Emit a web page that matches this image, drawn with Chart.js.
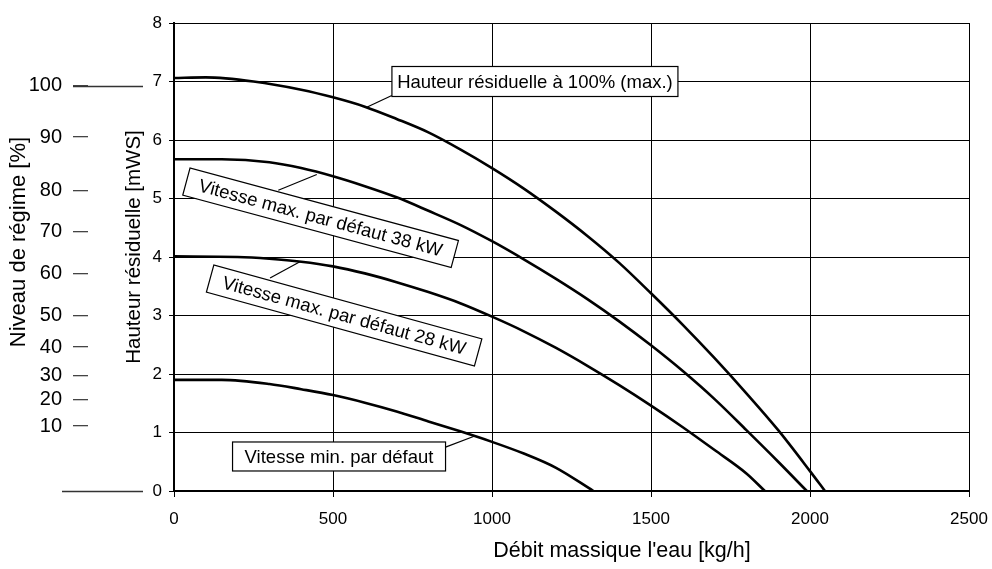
<!DOCTYPE html>
<html>
<head>
<meta charset="utf-8">
<script src="https://cdn.jsdelivr.net/npm/chart.js@4/dist/chart.umd.min.js"></script>
<style>
html,body{margin:0;padding:0;background:#fff;}
#wrap{width:992px;height:569px;position:relative;}
</style>
</head>
<body>
<div id="wrap"><canvas id="c" width="992" height="569"></canvas></div>
<script>
// ---------- DATA ----------
const seriesNames = ["Hauteur résiduelle à 100% (max.)", "Vitesse max. par défaut 38 kW", "Vitesse max. par défaut 28 kW", "Vitesse min. par défaut"];

const flowMax = [0, 100, 250, 400, 500, 600, 700, 800, 900, 1000, 1100, 1200, 1300, 1400, 1500, 1600, 1700, 1800, 1900, 2000, 2047];
const headMax = [7.06, 7.07, 7.00, 6.86, 6.73, 6.57, 6.36, 6.13, 5.84, 5.52, 5.17, 4.78, 4.36, 3.90, 3.38, 2.84, 2.27, 1.67, 1.04, 0.34, 0];

const flow38 = [0, 150, 300, 400, 500, 600, 700, 800, 900, 1000, 1100, 1200, 1300, 1400, 1500, 1600, 1700, 1800, 1900, 1990];
const head38 = [5.67, 5.67, 5.62, 5.52, 5.38, 5.21, 5.02, 4.79, 4.55, 4.27, 3.96, 3.63, 3.28, 2.90, 2.49, 2.05, 1.57, 1.04, 0.50, 0];

const flow28 = [0, 200, 300, 400, 500, 600, 700, 800, 900, 1000, 1100, 1200, 1300, 1400, 1500, 1600, 1700, 1800, 1858];
const head28 = [4.01, 4.00, 3.97, 3.92, 3.84, 3.72, 3.57, 3.40, 3.21, 2.98, 2.73, 2.45, 2.14, 1.81, 1.46, 1.09, 0.70, 0.30, 0];

const flowMin = [0, 150, 300, 400, 500, 600, 700, 800, 900, 1000, 1100, 1200, 1319];
const headMin = [1.90, 1.90, 1.83, 1.74, 1.64, 1.51, 1.36, 1.19, 1.02, 0.84, 0.64, 0.40, 0];

const xTickValues = [0, 500, 1000, 1500, 2000, 2500];
const yTickValues = [0, 1, 2, 3, 4, 5, 6, 7, 8];

// Niveau de régime [%] and the residual head each level is read against
const pctLabels = [100, 90, 80, 70, 60, 50, 40, 30, 20, 10];
const pctHeads  = [6.93, 6.05, 5.14, 4.43, 3.71, 3.00, 2.46, 1.97, 1.56, 1.11];

const axisTitles = {
  x: "Débit massique l'eau [kg/h]",
  y: "Hauteur résiduelle [mWS]",
  pct: "Niveau de régime [%]"
};

// ---------- LAYOUT / STYLE (not data) ----------
const FONT = "'Liberation Sans', Arial, Helvetica, sans-serif";
const calloutLayout = [
  {series: 0, cx: 1135, cy: 7.00, w: 286, h: 30, angle: 0,    from: [685, 6.76], to: [606, 6.56]},
  {series: 1, cx: 461,  cy: 4.67, w: 278, h: 28, angle: 15.1, from: [328, 5.14], to: [449, 5.41]},
  {series: 2, cx: 535,  cy: 3.00, w: 278, h: 28, angle: 15.4, from: [302, 3.64], to: [396, 3.92]},
  {series: 3, cx: 519,  cy: 0.59, w: 213, h: 29, angle: 0,    from: [854, 0.75], to: [946, 0.94]}
];

function pts(xs, ys) { return xs.map((x, i) => ({x: x, y: ys[i]})); }

Chart.defaults.font.family = FONT;
Chart.defaults.color = '#000';

const lineStyle = {borderColor: '#000', borderWidth: 2.6, pointRadius: 0, fill: false, cubicInterpolationMode: 'monotone'};

const extras = {
  id: 'extras',
  afterDraw(chart) {
    const ctx = chart.ctx;
    const xs = chart.scales.x, ys = chart.scales.y;
    ctx.save();
    ctx.strokeStyle = '#333';
    ctx.lineWidth = 1.3;
    ctx.beginPath();
    const p100 = Math.round(ys.getPixelForValue(pctHeads[0])) + 0.5;
    ctx.moveTo(73, p100); ctx.lineTo(143, p100);
    const p0 = Math.round(ys.getPixelForValue(0)) + 0.5;
    ctx.moveTo(62, p0); ctx.lineTo(143, p0);
    ctx.stroke();

    ctx.fillStyle = '#000';
    ctx.textAlign = 'center';
    ctx.textBaseline = 'middle';
    ctx.font = '22px ' + FONT;
    ctx.save(); ctx.translate(19, 242); ctx.rotate(-Math.PI / 2); ctx.fillText(axisTitles.pct, 0, 0); ctx.restore();
    ctx.font = '20.5px ' + FONT;
    ctx.save(); ctx.translate(134, 247); ctx.rotate(-Math.PI / 2); ctx.fillText(axisTitles.y, 0, 0); ctx.restore();
    ctx.font = '21.5px ' + FONT;
    ctx.fillText(axisTitles.x, 622, 551);

    ctx.font = '18.5px ' + FONT;
    calloutLayout.forEach(c => {
      ctx.strokeStyle = '#000';
      ctx.lineWidth = 1.2;
      ctx.beginPath();
      ctx.moveTo(xs.getPixelForValue(c.from[0]), ys.getPixelForValue(c.from[1]));
      ctx.lineTo(xs.getPixelForValue(c.to[0]), ys.getPixelForValue(c.to[1]));
      ctx.stroke();
      const px = xs.getPixelForValue(c.cx), py = ys.getPixelForValue(c.cy);
      ctx.save();
      ctx.translate(px, py);
      ctx.rotate(c.angle * Math.PI / 180);
      ctx.fillStyle = '#fff';
      ctx.fillRect(-c.w / 2, -c.h / 2, c.w, c.h);
      ctx.strokeRect(-c.w / 2, -c.h / 2, c.w, c.h);
      ctx.fillStyle = '#000';
      ctx.textAlign = 'center';
      ctx.textBaseline = 'middle';
      ctx.fillText(seriesNames[c.series], 0, 1);
      ctx.restore();
    });
    ctx.restore();
  }
};

new Chart(document.getElementById('c'), {
  type: 'line',
  data: {
    datasets: [
      Object.assign({label: seriesNames[0], data: pts(flowMax, headMax)}, lineStyle),
      Object.assign({label: seriesNames[1], data: pts(flow38, head38)}, lineStyle),
      Object.assign({label: seriesNames[2], data: pts(flow28, head28)}, lineStyle),
      Object.assign({label: seriesNames[3], data: pts(flowMin, headMin)}, lineStyle)
    ]
  },
  options: {
    responsive: false,
    animation: false,
    devicePixelRatio: 1,
    layout: {padding: {left: 0, right: 23, top: 21, bottom: 0}},
    plugins: {legend: {display: false}, tooltip: {enabled: false}},
    scales: {
      x: {
        type: 'linear', min: 0, max: 2500,
        afterBuildTicks: s => { s.ticks = xTickValues.map(v => ({value: v})); },
        afterFit: s => { s.height = 78; s.paddingRight = 0; s.paddingLeft = 0; },
        ticks: {font: {size: 17}, padding: 12, maxRotation: 0, autoSkip: false, callback: v => String(v)},
        grid: {color: '#000', lineWidth: 1, tickLength: 6},
        border: {color: '#000', width: 2}
      },
      y: {
        type: 'linear', position: 'left', min: 0, max: 8, weight: 0,
        afterBuildTicks: s => { s.ticks = yTickValues.map(v => ({value: v})); },
        afterFit: s => { s.width = 86; },
        ticks: {font: {size: 17}, padding: 7, autoSkip: false, callback: v => String(v)},
        grid: {color: '#000', lineWidth: 1, tickLength: 5},
        border: {color: '#000', width: 2}
      },
      yPct: {
        type: 'linear', position: 'left', min: 0, max: 8, weight: 1,
        afterBuildTicks: s => { s.ticks = pctHeads.map(v => ({value: v})); },
        afterFit: s => { s.width = 88; },
        ticks: {font: {size: 20}, padding: 11, autoSkip: false,
                callback: (v, i) => String(pctLabels[i])},
        grid: {drawOnChartArea: false, color: '#444', lineWidth: 1.3, tickLength: 15},
        border: {display: false}
      }
    }
  },
  plugins: [extras]
});
</script>
</body>
</html>
